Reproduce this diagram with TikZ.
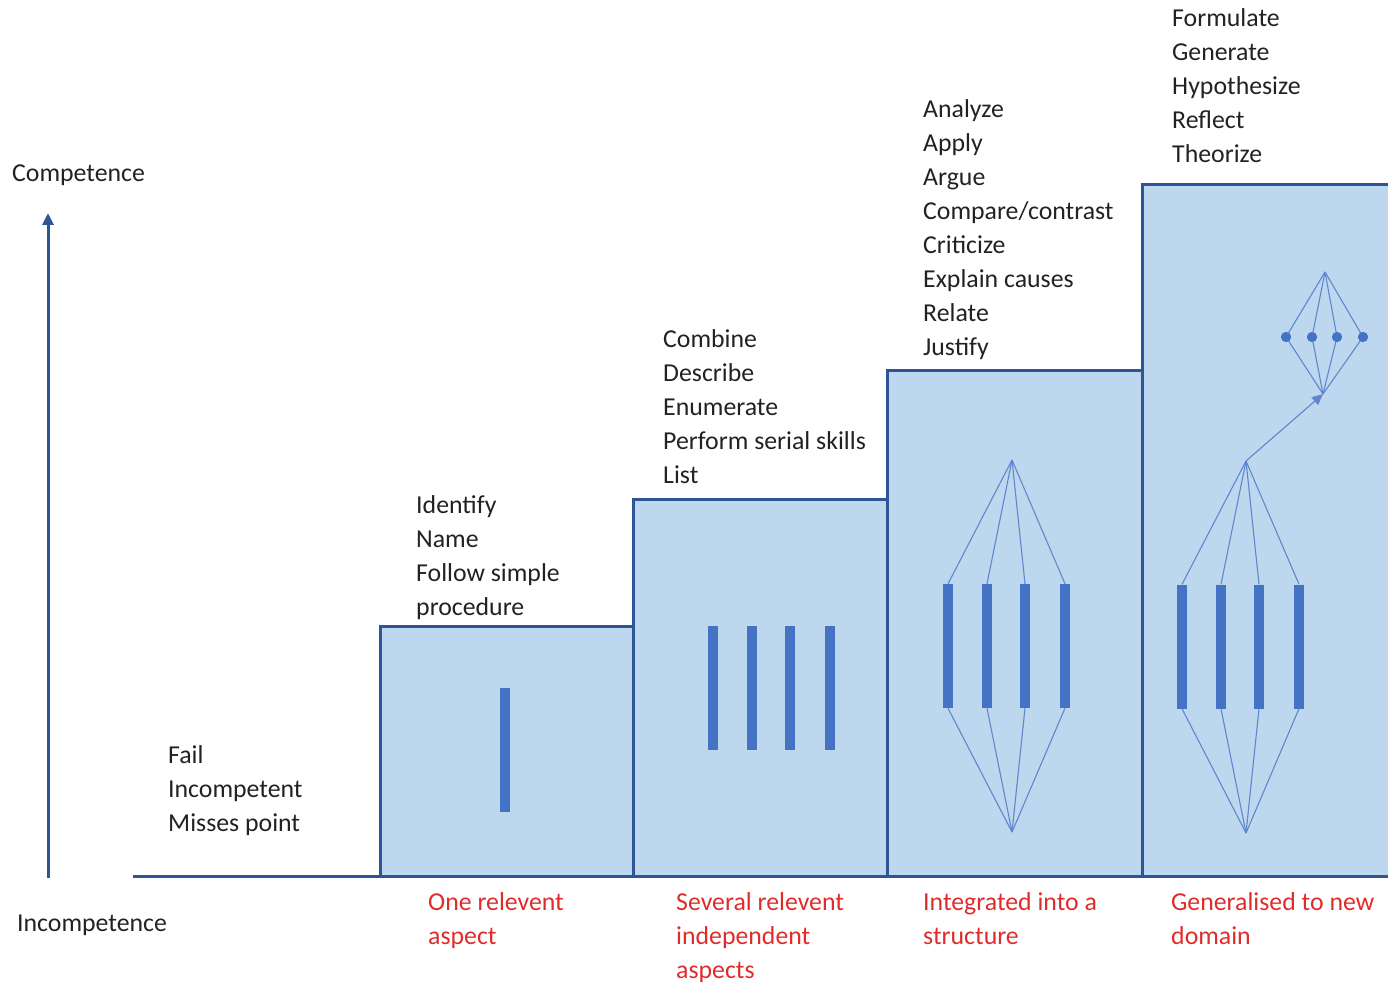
\documentclass[tikz,border=0pt]{standalone}
\usepackage{fontspec}
\setmainfont{Carlito}
\usetikzlibrary{arrows.meta}
\definecolor{boxfill}{HTML}{BDD7EE}
\definecolor{boxline}{HTML}{2F5597}
\definecolor{barblue}{HTML}{4472C4}
\definecolor{txt}{HTML}{222222}
\definecolor{redtxt}{HTML}{E02B2B}
\begin{document}
\begin{tikzpicture}[x=1pt,y=-1pt,
 level/.style={fill=boxfill,draw=boxline,line width=3pt},
 bar/.style={fill=barblue,minimum width=10.5pt,minimum height=124pt,inner sep=0pt,draw=none},
 link/.style={draw=barblue!85,line width=1.1pt},
 dot/.style={circle,fill=barblue,minimum size=10pt,inner sep=0pt},
 words/.style={anchor=north west,inner sep=0pt,align=left,text=txt,font=\fontsize{25.8}{34}\selectfont},
 redwords/.style={words,text=redtxt},
]
\useasboundingbox (0,0) rectangle (1388,984);
% levels
\draw[level] (380,876) rectangle (633,626);
\draw[level] (633,876) rectangle (887,499);
\draw[level] (887,876) rectangle (1142,370);
\draw[level] (1142,876) rectangle (1396,185);
% axes
\coordinate (axlo) at (48,878);
\coordinate (axhi) at (48,213);
\draw[boxline,line width=3pt,-{Triangle[length=12pt,width=11pt]}] (axlo) -- (axhi);
\coordinate (bl) at (133,876);
\coordinate (br) at (1396,876);
\draw[boxline,line width=3pt] (bl) -- (br);
% level 1
\node[bar] (a1) at (505,750) {};
% level 2
\foreach \i/\x in {1/713,2/752,3/790,4/830}
  \node[bar] (b\i) at (\x,688) {};
% level 3
\coordinate (t3) at (1012,460);
\coordinate (u3) at (1012,832);
\foreach \i/\x in {1/948,2/987,3/1025,4/1065}{
  \node[bar] (c\i) at (\x,646) {};
  \draw[link] (c\i.north) -- (t3);
  \draw[link] (c\i.south) -- (u3);
}
% level 4
\coordinate (t4) at (1246,461);
\coordinate (u4) at (1246,833);
\foreach \i/\x in {1/1182,2/1221,3/1259,4/1299}{
  \node[bar] (e\i) at (\x,646.5) {};
  \draw[link] (e\i.north) -- (t4);
  \draw[link] (e\i.south) -- (u4);
}
\coordinate (dtop) at (1325,272);
\coordinate (dbot) at (1323,394);
\foreach \i/\x in {1/1286,2/1312,3/1337,4/1363}{
  \node[dot] (d\i) at (\x,337) {};
  \draw[link] (d\i.center) -- (dtop);
  \draw[link] (d\i.center) -- (dbot);
  \node[dot] at (d\i.center) {};
}
\draw[link,-{Triangle[length=11pt,width=10pt]}] (t4) -- (dbot);
% texts
\node[words] (comp) at (12,157.2) {\strut Competence};
\node[words] (incomp) at (17,907.2) {\strut Incompetence};
\node[words] (l0) at (168,739.2) {\strut Fail\\Incompetent\\Misses point};
\node[words] (l1) at (416,489.2) {\strut Identify\\Name\\Follow simple\\procedure};
\node[words] (l2) at (663,323.2) {\strut Combine\\Describe\\Enumerate\\Perform serial skills\\List};
\node[words] (l3) at (923,93.2) {\strut Analyze\\Apply\\Argue\\Compare/contrast\\Criticize\\Explain causes\\Relate\\Justify};
\node[words] (l4) at (1172,2.2) {\strut Formulate\\Generate\\Hypothesize\\Reflect\\Theorize};
\node[redwords] (r1) at (428,886.2) {\strut One relevent\\aspect};
\node[redwords] (r2) at (676,886.2) {\strut Several relevent\\independent\\aspects};
\node[redwords] (r3) at (923,886.2) {\strut Integrated into a\\structure};
\node[redwords] (r4) at (1171,886.2) {\strut Generalised to new\\domain};
\end{tikzpicture}
\end{document}
